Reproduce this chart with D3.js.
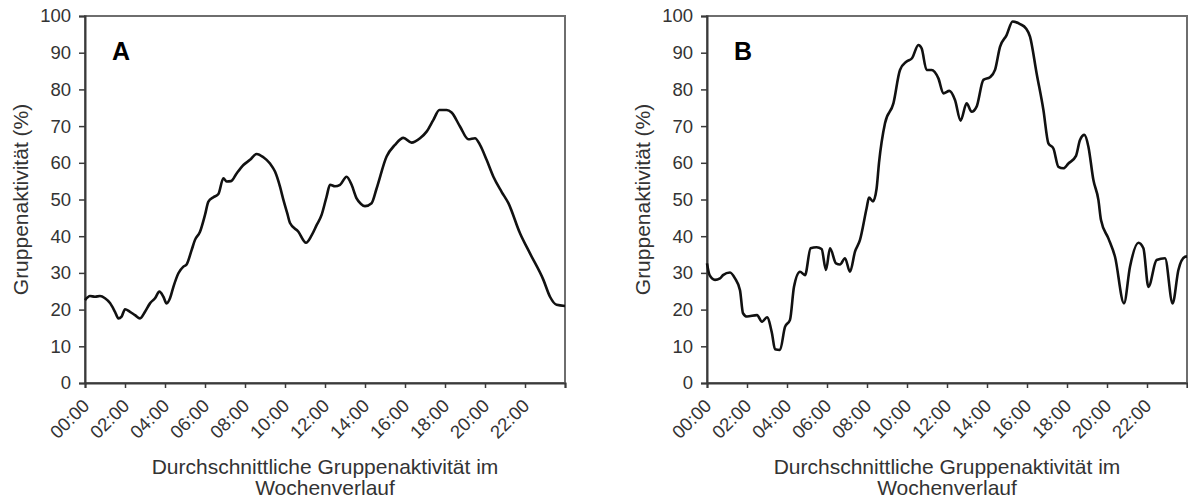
<!DOCTYPE html>
<html>
<head>
<meta charset="utf-8">
<script src="https://cdn.jsdelivr.net/npm/d3@7"></script>
<style>
  body { margin: 0; background: #fff; }
  svg { display: block; font-family: "Liberation Sans", Arial, sans-serif; }
</style>
</head>
<body>
<div id="chart"></div>
<script>
// Panel A: hours of day and group activity (%)
const hoursA = [0, 0.25, 0.5, 0.75, 1.0, 1.25, 1.5, 1.67, 1.83, 2.0, 2.25, 2.5, 2.75, 3.0, 3.25, 3.5, 3.72, 3.92, 4.08, 4.25,
  4.42, 4.67, 4.92, 5.08, 5.33, 5.5, 5.75, 6.0, 6.17, 6.42, 6.67, 6.92, 7.08, 7.3, 7.58, 7.92, 8.25, 8.58, 8.92, 9.25,
  9.5, 9.75, 9.92, 10.1, 10.25, 10.67, 11.05, 11.33, 11.58, 11.83, 12.08, 12.25, 12.5, 12.75, 13.08, 13.33, 13.58, 13.8, 14.0, 14.33,
  14.58, 15.08, 15.5, 15.92, 16.33, 16.75, 17.08, 17.42, 17.72, 18.08, 18.33, 18.75, 19.17, 19.5, 19.75, 20.08, 20.42, 20.83, 21.17, 21.75,
  22.25, 22.92, 23.25, 23.58, 24];
const valuesA = [22.6, 23.7, 23.5, 23.7, 23.1, 21.8, 19.4, 17.6, 18.1, 20.1, 19.4, 18.5, 17.6, 19.4, 21.7, 23.1, 24.9, 23.5, 21.7, 23.1,
  26.2, 29.9, 31.7, 32.3, 36.2, 39.0, 41.2, 45.8, 49.4, 50.6, 51.5, 55.8, 54.9, 55.0, 57.1, 59.4, 60.8, 62.4, 61.5, 59.8,
  57.6, 53.5, 49.9, 46.5, 43.6, 41.2, 38.2, 40.2, 43.0, 45.8, 50.8, 54.0, 53.6, 54.0, 56.2, 54.0, 50.3, 48.8, 48.2, 49.0,
  53.0, 61.7, 64.9, 66.8, 65.5, 66.7, 68.5, 71.7, 74.4, 74.4, 73.7, 69.9, 66.4, 66.7, 64.9, 60.8, 56.2, 52.1, 49.0, 40.8,
  35.3, 28.1, 23.5, 21.3, 21.0];

// Panel B
const hoursB = [0, 0.13, 0.4, 0.65, 0.8, 1.15, 1.4, 1.65, 1.8, 2.0, 2.5, 2.75, 3.0, 3.25, 3.4, 3.65, 3.9, 4.15, 4.35, 4.65,
  4.9, 5.18, 5.48, 5.73, 5.95, 6.15, 6.45, 6.65, 6.9, 7.15, 7.4, 7.65, 7.98, 8.1, 8.3, 8.48, 8.6, 8.9, 9.32, 9.65,
  9.98, 10.25, 10.57, 10.73, 10.98, 11.23, 11.57, 11.82, 12.12, 12.4, 12.68, 12.98, 13.23, 13.48, 13.82, 14.15, 14.4, 14.65, 14.98, 15.28,
  15.65, 15.95, 16.15, 16.48, 16.82, 17.07, 17.32, 17.57, 17.82, 18.07, 18.45, 18.65, 18.87, 19.07, 19.32, 19.57, 19.7, 20.07, 20.4, 20.85,
  21.15, 21.57, 21.82, 22.07, 22.48, 22.9, 23.28, 23.57, 23.9, 24];
const valuesB = [32.6, 29.4, 28.1, 28.5, 29.4, 30.1, 28.5, 25.3, 19.0, 18.1, 18.5, 16.7, 17.9, 13.5, 9.2, 9.0, 15.3, 17.2, 26.2, 30.3,
  29.4, 36.7, 37.0, 36.5, 30.8, 36.7, 32.6, 32.3, 34.0, 30.3, 35.8, 39.0, 47.6, 50.5, 49.5, 53.0, 60.0, 70.8, 76.2, 85.3,
  87.6, 88.5, 92.1, 91.2, 85.3, 85.3, 83.0, 78.9, 79.6, 77.1, 71.5, 76.2, 73.9, 75.3, 82.6, 83.3, 85.3, 91.6, 94.8, 98.5,
  97.8, 96.6, 94.4, 84.4, 74.4, 65.3, 63.9, 58.9, 58.5, 59.8, 61.9, 66.2, 67.6, 64.4, 55.3, 49.9, 44.4, 39.4, 34.4, 21.7,
  31.7, 38.2, 36.7, 26.2, 33.5, 34.0, 21.7, 30.8, 34.4, 34.5];

const xTickHours = [0, 2, 4, 6, 8, 10, 12, 14, 16, 18, 20, 22, 24];
const xTickLabels = ["00:00", "02:00", "04:00", "06:00", "08:00", "10:00", "12:00", "14:00", "16:00", "18:00", "20:00", "22:00", ""];
const yTicks = [0, 10, 20, 30, 40, 50, 60, 70, 80, 90, 100];

const yLabel = "Gruppenaktivität (%)";
const xLabelLines = ["Durchschnittliche Gruppenaktivität im", "Wochenverlauf"];

const W = 1188, H = 499;
const svg = d3.select("#chart").append("svg").attr("width", W).attr("height", H);

function drawPanel(left, letter, hours, values) {
    const top = 16, width = 480, height = 367;
    const g = svg.append("g").attr("transform", `translate(${left},${top})`);

    const x = d3.scaleLinear().domain([0, 24]).range([0, width]);
    const y = d3.scaleLinear().domain([0, 100]).range([height, 0]);

    // frame (top / right)
    g.append("rect")
        .attr("width", width).attr("height", height)
        .attr("fill", "none").attr("stroke", "#6e6e6e").attr("stroke-width", 2);

    // y axis
    const yAxis = g.append("g")
        .call(d3.axisLeft(y).tickValues(yTicks).tickSize(6).tickPadding(8));
    yAxis.select(".domain").attr("stroke", "#3a3a3a").attr("stroke-width", 2);
    yAxis.selectAll(".tick line").attr("stroke", "#3a3a3a").attr("stroke-width", 1.5);
    yAxis.selectAll("text").attr("fill", "#333").style("font-size", "18.5px")
        .style("font-family", '"Liberation Sans", Arial, sans-serif');

    // x axis
    const xAxis = g.append("g")
        .attr("transform", `translate(0,${height})`)
        .call(d3.axisBottom(x).tickValues(xTickHours).tickSize(5).tickFormat((d, i) => xTickLabels[i]));
    xAxis.select(".domain").attr("stroke", "#3a3a3a").attr("stroke-width", 2);
    xAxis.selectAll(".tick line").attr("stroke", "#3a3a3a").attr("stroke-width", 1.5);
    xAxis.selectAll("text")
        .attr("fill", "#333")
        .style("font-size", "18.5px")
        .style("font-family", '"Liberation Sans", Arial, sans-serif')
        .attr("text-anchor", "end")
        .attr("x", 0).attr("y", 0).attr("dy", 0)
        .attr("transform", "translate(5,24) rotate(-45)");

    // line
    const data = hours.map((h, i) => ({ h, v: values[i] }));
    const line = d3.line()
        .x(d => x(d.h))
        .y(d => y(d.v))
        .curve(d3.curveMonotoneX);
    g.append("path")
        .datum(data)
        .attr("d", line)
        .attr("fill", "none")
        .attr("stroke", "#111")
        .attr("stroke-width", 2.6)
        .attr("stroke-linejoin", "round");

    // panel letter
    g.append("text")
        .attr("x", 27).attr("y", 44)
        .style("font-size", "25px").style("font-weight", "bold")
        .attr("fill", "#000")
        .text(letter);

    // y title
    g.append("text")
        .attr("transform", `translate(${-57},${height / 2}) rotate(-90)`)
        .attr("text-anchor", "middle")
        .style("font-size", "21px")
        .attr("fill", "#333")
        .text(yLabel);

    // x title
    g.append("text")
        .attr("text-anchor", "middle")
        .style("font-size", "21px")
        .attr("fill", "#333")
        .selectAll("tspan")
        .data(xLabelLines)
        .enter().append("tspan")
        .attr("x", width / 2)
        .attr("y", (d, i) => 458 + i * 21)
        .text(d => d);
}

drawPanel(85, "A", hoursA, valuesA);
drawPanel(707, "B", hoursB, valuesB);
</script>
</body>
</html>
